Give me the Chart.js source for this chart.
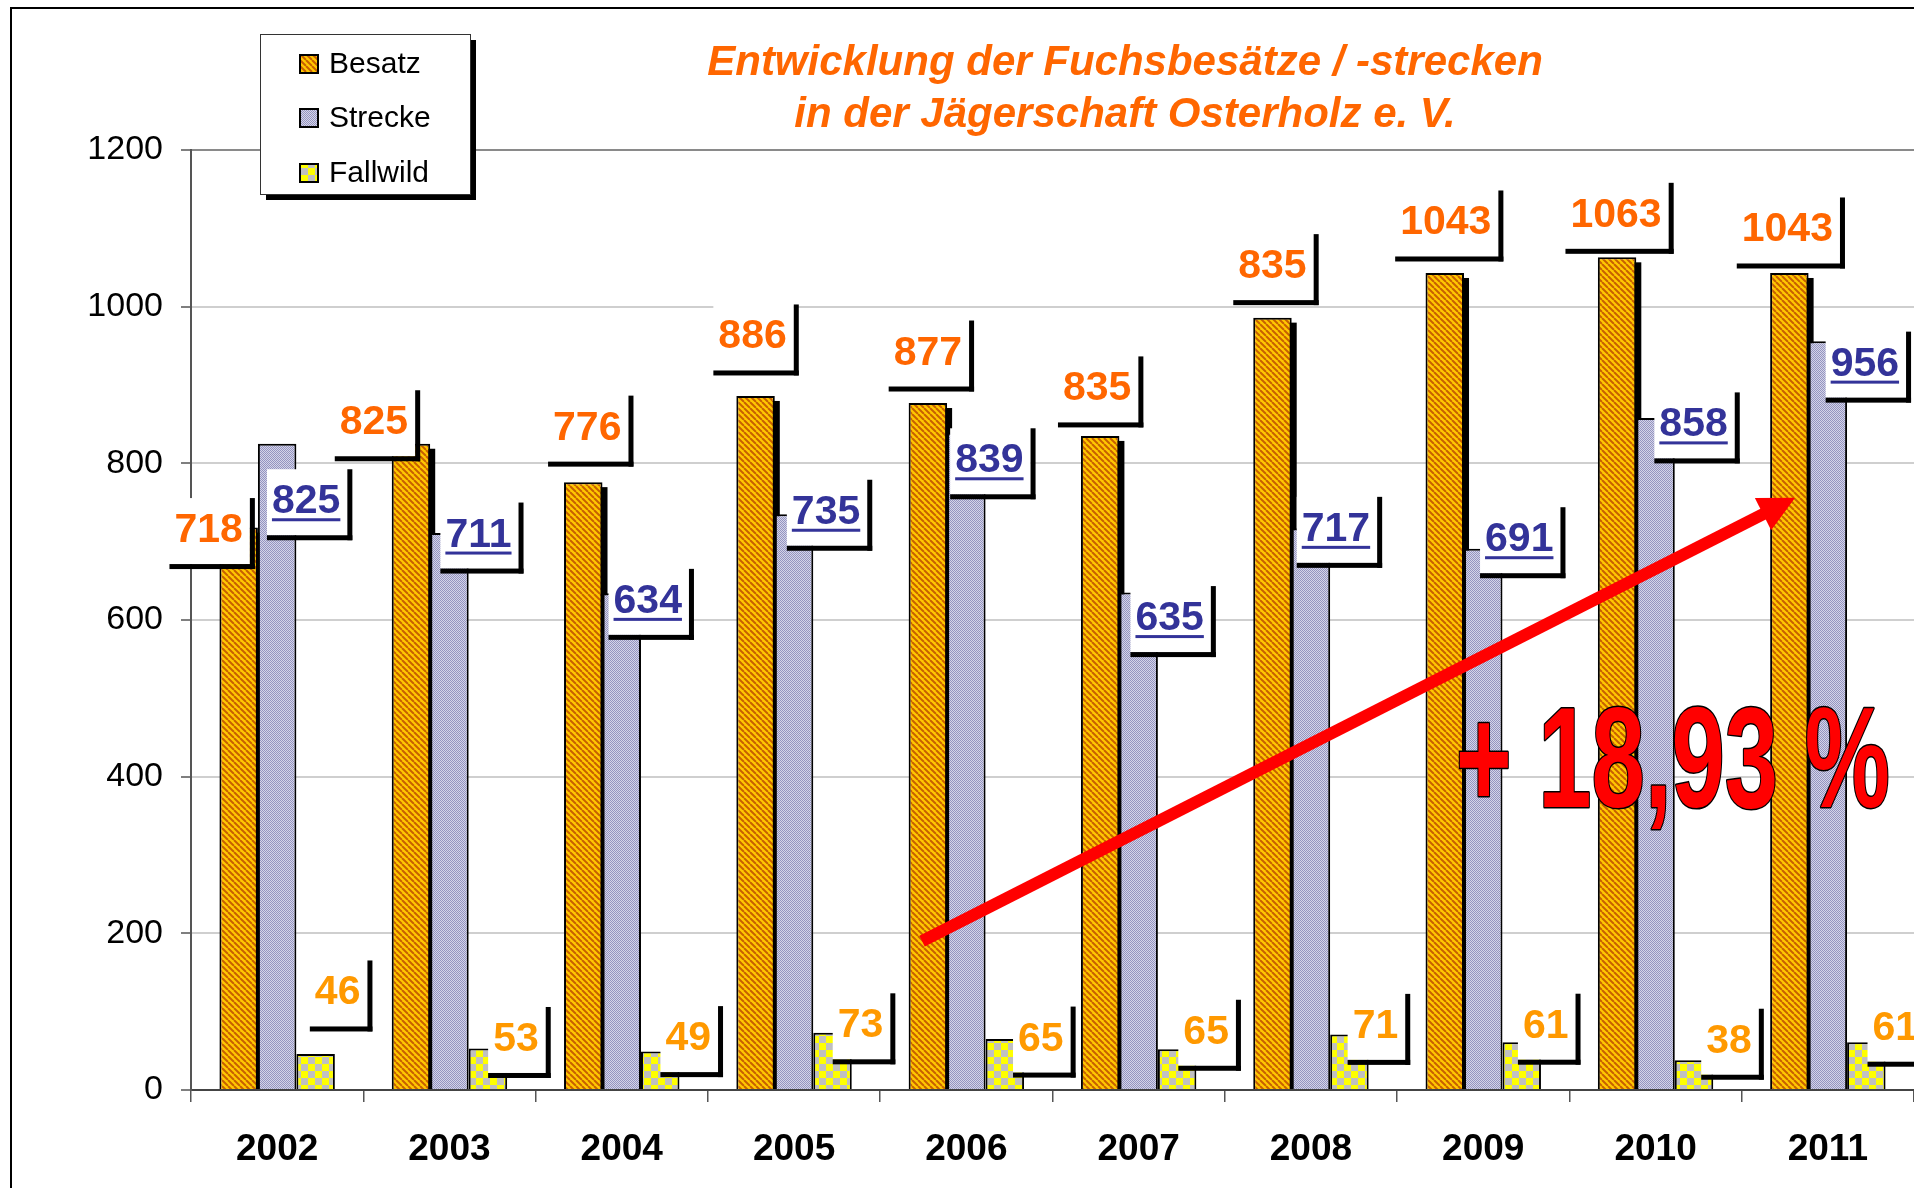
<!DOCTYPE html>
<html lang="de">
<head>
<meta charset="utf-8">
<title>Fuchsbesätze / -strecken</title>
<script src="https://cdn.jsdelivr.net/npm/chart.js@4.4.1/dist/chart.umd.min.js"></script>
<style>
    body { margin: 0; background: #fff; }
    canvas { display: block; }
</style>
</head>
<body>
<canvas id="fuchsChart" width="1914" height="1188"></canvas>
<script>
// Daten
const jahre = ['2002', '2003', '2004', '2005', '2006', '2007', '2008', '2009', '2010', '2011'];
const besatz = [718, 825, 776, 886, 877, 835, 986, 1043, 1063, 1043];
const strecke = [825, 711, 634, 735, 839, 635, 717, 691, 858, 956];
const fallwild = [46, 53, 49, 73, 65, 52, 71, 61, 38, 61];
// Beschriftungen so wie im Original (2008 Besatz und 2007 Fallwild weichen ab)
const besatzText = [718, 825, 776, 886, 877, 835, 835, 1043, 1063, 1043];
const streckeText = [825, 711, 634, 735, 839, 635, 717, 691, 858, 956];
const fallwildText = [46, 53, 49, 73, 65, 65, 71, 61, 38, 61];
const yTicks = [0, 200, 400, 600, 800, 1000, 1200];

// Versatz der Beschriftungen (Pixel, relativ zur Balkenoberkante)
const besatzPos = [[-30, 0], [-37, -24], [4, -57], [-3, -62], [0, -53], [-3, -50], [0, -54], [1, -53], [-1, -45], [-2, -46]];
const streckePos = [[29, 55], [29, -1], [26, 5], [32, -5], [23, 25], [31, 23], [25, -2], [36, -12], [38, 4], [37, 20]];
const fallwildPos = [[22, -64], [28, -12], [28, -16], [28, -10], [36, -3], [29, -20], [26, -11], [24, -19], [35, -22], [29, -17]];

const FONT = '"Liberation Sans", Arial, sans-serif';

// Füllmuster
function musterSchraeg() {
    const c = document.createElement('canvas');
    c.width = 6; c.height = 6;
    const g = c.getContext('2d');
    g.fillStyle = '#ffc800';
    g.fillRect(0, 0, 6, 6);
    g.strokeStyle = '#c86000';
    g.lineWidth = 2;
    for (let o = -6; o <= 6; o += 6) {
        g.beginPath();
        g.moveTo(o, 0);
        g.lineTo(o + 6, 6);
        g.stroke();
    }
    return g.createPattern(c, 'repeat');
}

function musterPunkte() {
    const c = document.createElement('canvas');
    c.width = 2; c.height = 2;
    const g = c.getContext('2d');
    g.fillStyle = '#d4d4e8';
    g.fillRect(0, 0, 2, 2);
    g.fillStyle = '#9494c0';
    g.fillRect(0, 0, 1, 1);
    g.fillRect(1, 1, 1, 1);
    return g.createPattern(c, 'repeat');
}

function musterKaro() {
    const c = document.createElement('canvas');
    c.width = 14; c.height = 14;
    const g = c.getContext('2d');
    g.fillStyle = '#ffff00';
    g.fillRect(0, 0, 14, 14);
    g.fillStyle = '#c0c0c0';
    g.fillRect(7, 0, 7, 7);
    g.fillRect(0, 7, 7, 7);
    return g.createPattern(c, 'repeat');
}

// Beschriftung mit weißem Kasten und schwarzem Schatten
function zeichneLabel(ctx, text, cx, cy, farbe, unterstrichen) {
    ctx.save();
    ctx.font = 'bold 41px ' + FONT;
    const w = ctx.measureText(text).width;
    const capH = 29;
    const left = cx - w / 2;
    const base = cy + capH / 2;
    const bx = left - 5, by = cy - capH / 2 - 15;
    const bw = w + 12, bh = base + 22 - by;
    ctx.fillStyle = '#fff';
    ctx.fillRect(bx, by, bw, bh);
    ctx.fillStyle = '#000';
    ctx.fillRect(bx + bw, by, 5, bh + 5);
    ctx.fillRect(bx, by + bh, bw + 5, 5);
    ctx.fillStyle = farbe;
    ctx.textAlign = 'left';
    ctx.textBaseline = 'alphabetic';
    ctx.fillText(text, left, base);
    if (unterstrichen) ctx.fillRect(left, base + 5, w, 3);
    ctx.restore();
}

// Schatten hinter den Besatz-Balken
const schattenPlugin = {
    id: 'schatten',
    beforeDatasetsDraw(chart) {
        const ctx = chart.ctx;
        ctx.save();
        ctx.fillStyle = '#000';
        chart.getDatasetMeta(0).data.forEach(bar => {
            const w = bar.width;
            ctx.fillRect(bar.x - w / 2 + 5, bar.y + 5, w, bar.base - bar.y - 5);
        });
        ctx.restore();
    }
};

const labelPlugin = {
    id: 'labels',
    afterDatasetsDraw(chart) {
        const ctx = chart.ctx;
        chart.getDatasetMeta(0).data.forEach((bar, i) => {
            zeichneLabel(ctx, String(besatzText[i]), bar.x + besatzPos[i][0], bar.y + besatzPos[i][1], '#ff6600', false);
        });
        chart.getDatasetMeta(1).data.forEach((bar, i) => {
            zeichneLabel(ctx, String(streckeText[i]), bar.x + streckePos[i][0], bar.y + streckePos[i][1], '#333399', true);
        });
        chart.getDatasetMeta(2).data.forEach((bar, i) => {
            zeichneLabel(ctx, String(fallwildText[i]), bar.x + fallwildPos[i][0], bar.y + fallwildPos[i][1], '#ff9900', false);
        });
    }
};

// Titel, Legende, Rahmen, Pfeil und Prozentangabe
const extrasPlugin = {
    id: 'extras',
    afterDraw(chart) {
        const ctx = chart.ctx;
        const x = chart.scales.x;
        const y = chart.scales.y;
        ctx.save();

        // Rahmen
        ctx.strokeStyle = '#000';
        ctx.lineWidth = 2;
        ctx.strokeRect(11, 8, 4000, 4000);

        // Titel
        ctx.fillStyle = '#ff6600';
        ctx.font = 'italic bold 42px ' + FONT;
        ctx.textAlign = 'center';
        ctx.textBaseline = 'alphabetic';
        ctx.fillText('Entwicklung der Fuchsbesätze / -strecken', 1125, 75);
        ctx.fillText('in der Jägerschaft Osterholz e. V.', 1125, 127);

        // Legende
        ctx.fillStyle = '#000';
        ctx.fillRect(266, 40, 210, 160);
        ctx.fillStyle = '#fff';
        ctx.fillRect(260, 34, 210, 160);
        ctx.lineWidth = 1;
        ctx.strokeStyle = '#333';
        ctx.strokeRect(260.5, 34.5, 210, 160);
        const zeilen = [64, 118, 173];
        chart.data.datasets.forEach((ds, i) => {
            ctx.fillStyle = ds.backgroundColor;
            ctx.fillRect(300, zeilen[i] - 9, 18, 18);
            ctx.lineWidth = 2;
            ctx.strokeStyle = '#000';
            ctx.strokeRect(300, zeilen[i] - 9, 18, 18);
            ctx.fillStyle = '#000';
            ctx.font = '30px ' + FONT;
            ctx.textAlign = 'left';
            ctx.textBaseline = 'middle';
            ctx.fillText(ds.label, 329, zeilen[i] + 1);
        });

        // Trendpfeil
        const x0 = x.getPixelForValue(3.743), y0 = y.getPixelForValue(190);
        const x1 = x.getPixelForValue(8.81), y1 = y.getPixelForValue(756);
        const ang = Math.atan2(y1 - y0, x1 - x0);
        const kopf = 36;
        ctx.strokeStyle = '#ff0000';
        ctx.fillStyle = '#ff0000';
        ctx.lineWidth = 12;
        ctx.beginPath();
        ctx.moveTo(x0, y0);
        ctx.lineTo(x1 - Math.cos(ang) * (kopf - 4), y1 - Math.sin(ang) * (kopf - 4));
        ctx.stroke();
        ctx.beginPath();
        ctx.moveTo(x1, y1);
        ctx.lineTo(x1 - Math.cos(ang) * kopf + Math.sin(ang) * 18, y1 - Math.sin(ang) * kopf - Math.cos(ang) * 18);
        ctx.lineTo(x1 - Math.cos(ang) * kopf - Math.sin(ang) * 18, y1 - Math.sin(ang) * kopf + Math.cos(ang) * 18);
        ctx.closePath();
        ctx.fill();

        // + 18,93 %
        const tx = x.getPixelForValue(6.84), ty = y.getPixelForValue(361);
        ctx.translate(tx, ty);
        ctx.scale(0.675, 1);
        ctx.font = 'bold 142px ' + FONT;
        ctx.textAlign = 'left';
        ctx.textBaseline = 'alphabetic';
        ctx.lineJoin = 'round';
        ctx.lineWidth = 3;
        ctx.strokeStyle = '#000';
        ctx.fillStyle = '#ff0000';
        ctx.strokeText('+ 18,93 %', 0, 0);
        ctx.fillText('+ 18,93 %', 0, 0);
        ctx.restore();
    }
};

const ctx = document.getElementById('fuchsChart').getContext('2d');
const fuchsChart = new Chart(ctx, {
    type: 'bar',
    data: {
        labels: jahre,
        datasets: [{
            label: 'Besatz',
            data: besatz,
            backgroundColor: musterSchraeg(),
            borderColor: '#000',
            borderWidth: 2
        }, {
            label: 'Strecke',
            data: strecke,
            backgroundColor: musterPunkte(),
            borderColor: '#000',
            borderWidth: 2
        }, {
            label: 'Fallwild',
            data: fallwild,
            backgroundColor: musterKaro(),
            borderColor: '#000',
            borderWidth: 2
        }]
    },
    options: {
        responsive: false,
        animation: false,
        layout: {
            padding: { top: 150, left: 0, right: 0, bottom: 0 }
        },
        datasets: {
            bar: {
                categoryPercentage: 0.67,
                barPercentage: 1.0
            }
        },
        plugins: {
            legend: { display: false },
            title: { display: false },
            tooltip: { enabled: false }
        },
        scales: {
            x: {
                grid: {
                    offset: true,
                    drawOnChartArea: false,
                    drawTicks: true,
                    tickLength: 12,
                    color: '#555',
                    lineWidth: 1.5
                },
                border: { color: '#444', width: 2 },
                ticks: {
                    color: '#000',
                    font: { family: FONT, size: 37, weight: 'bold' },
                    padding: 26,
                    maxRotation: 0
                },
                afterFit(scale) { scale.height = 98; }
            },
            y: {
                min: 0,
                max: 1200,
                afterBuildTicks(scale) { scale.ticks = yTicks.map(v => ({ value: v })); },
                grid: {
                    color: c => (c.tick && c.tick.value === 1200) ? '#8a8a8a' : '#cfcfcf',
                    lineWidth: 2,
                    tickLength: 10,
                    tickColor: '#555',
                    tickWidth: 1.5
                },
                border: { color: '#555', width: 2 },
                ticks: {
                    color: '#000',
                    font: { family: FONT, size: 34 },
                    padding: 18,
                    callback: v => String(v)
                },
                afterFit(scale) { scale.width = 191; }
            }
        }
    },
    plugins: [schattenPlugin, labelPlugin, extrasPlugin]
});
</script>
</body>
</html>
